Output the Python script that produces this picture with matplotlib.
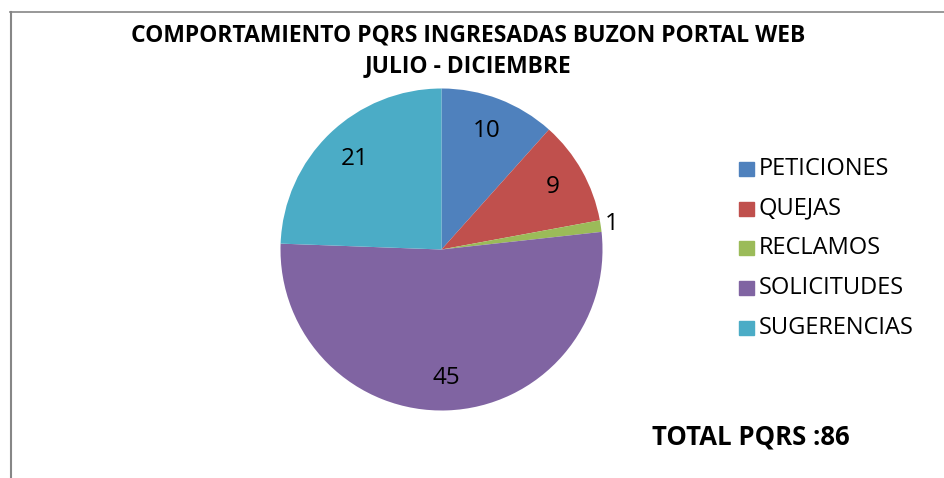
import matplotlib.pyplot as plt
import numpy as np

# datos
categorias = ["PETICIONES", "QUEJAS", "RECLAMOS", "SOLICITUDES", "SUGERENCIAS"]
valores = [10, 9, 1, 45, 21]
colores = ["#4F81BD", "#C0504D", "#9BBB59", "#8064A2", "#4BACC6"]
titulo = "COMPORTAMIENTO PQRS INGRESADAS BUZON PORTAL WEB\nJULIO - DICIEMBRE"
total_txt = "TOTAL PQRS :%d" % sum(valores)

plt.rcParams['font.family'] = ['Open Sans', 'DejaVu Sans']

W, H = 945, 478
fig = plt.figure(figsize=(W / 100, H / 100), dpi=100)

# marco del grafico (izquierda y arriba)
fig.add_artist(plt.Line2D([10.5 / W, 10.5 / W], [0, 1 - 12 / H], color="#868686", lw=1.5))
fig.add_artist(plt.Line2D([10 / W, 1], [1 - 12 / H, 1 - 12 / H], color="#868686", lw=1.2))

# torta
cx, cy, r = 441.5, 249.5, 161
ax = fig.add_axes([(cx - r) / W, 1 - (cy + r) / H, 2 * r / W, 2 * r / H])
wedges, _ = ax.pie(valores, colors=colores, startangle=90, counterclock=False,
                   wedgeprops=dict(linewidth=0))
ax.set_xlim(-1, 1)
ax.set_ylim(-1, 1)
ax.set_aspect('auto')

dist = [0.79, 0.79, 1.07, 0.8, 0.78]
for w, v, d in zip(wedges, valores, dist):
    ang = np.deg2rad((w.theta1 + w.theta2) / 2)
    ax.text(d * np.cos(ang), d * np.sin(ang), str(v), ha='center', va='center',
            fontsize=17.5, clip_on=False)

# titulo
fig.text(468 / W, 1 - 51 / H, titulo, ha='center', va='center', fontsize=16.5,
         fontweight='bold', linespacing=1.35)

# leyenda
for i, (c, lab) in enumerate(zip(colores, categorias)):
    y = 1 - (169 + i * 39.7) / H
    fig.patches.append(plt.Rectangle((739 / W, y - 7 / H), 14.5 / W, 14 / H,
                                     color=c, transform=fig.transFigure))
    fig.text(759 / W, y, lab, ha='left', va='center', fontsize=17)

fig.text(751 / W, 1 - 437 / H, total_txt, ha='center', va='center', fontsize=18.5,
         fontweight='bold')

fig.savefig("out.png", dpi=100)
